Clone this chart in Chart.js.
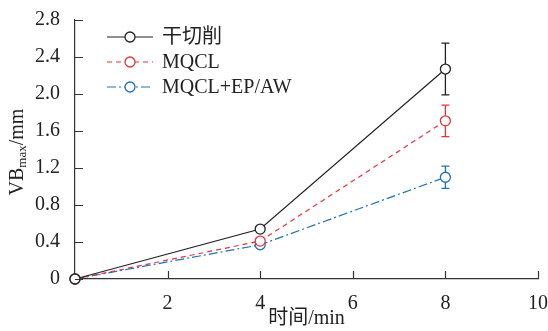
<!DOCTYPE html>
<html>
<head>
<meta charset="utf-8">
<script src="https://cdn.jsdelivr.net/npm/chart.js@4"></script>
<style>
  html, body { margin: 0; padding: 0; background: #fff; }
  #wrap { width: 548px; height: 331px; }
</style>
</head>
<body>
<div id="wrap"><canvas id="chartVB" width="548" height="331"></canvas></div>
<script>
// dados
const tempos = [0, 4, 8];
const seriesNomes = ['干切削', 'MQCL', 'MQCL+EP/AW'];
const vbSeco = [0, 0.54, 2.27];
const vbMqcl = [0, 0.41, 1.71];
const vbMqclEp = [0, 0.37, 1.10];
// barras de erro (só no último ponto)
const erroSeco = [0, 0, 0.28];
const erroMqcl = [0, 0, 0.17];
const erroMqclEp = [0, 0, 0.12];
const xTicks = [2, 4, 6, 8, 10];
const yTicks = [0, 0.4, 0.8, 1.2, 1.6, 2.0, 2.4, 2.8];

const FONTE = '"Liberation Serif", "Times New Roman", "Noto Sans CJK SC", serif';
const cores = ['#222222', '#e8323c', '#1f72ba'];
const tracos = [[], [5, 4], [9, 3, 2, 3]];
const erros = [erroSeco, erroMqcl, erroMqclEp];

function montarDataset(i, valores) {
    return {
        label: seriesNomes[i],
        data: tempos.map((t, k) => ({ x: t, y: valores[k] })),
        borderColor: cores[i],
        borderWidth: 1.2,
        borderDash: tracos[i],
        pointRadius: 5,
        pointHoverRadius: 5,
        pointBorderWidth: 1.3,
        pointBackgroundColor: '#ffffff',
        pointBorderColor: cores[i],
        tension: 0,
        clip: false
    };
}

// plugin: barras de erro, ticks internos, legenda e título do eixo y
const extras = {
    id: 'extras',
    beforeDatasetsDraw(chart) {
        const { ctx, scales } = chart;
        const sx = scales.x, sy = scales.y;
        ctx.save();
        erros.forEach((arr, i) => {
            ctx.strokeStyle = cores[i];
            ctx.lineWidth = 1.3;
            ctx.setLineDash([]);
            arr.forEach((e, k) => {
                if (!e) return;
                const px = sx.getPixelForValue(tempos[k]);
                const v = chart.data.datasets[i].data[k].y;
                const top = sy.getPixelForValue(v + e);
                const bot = sy.getPixelForValue(v - e);
                ctx.beginPath();
                ctx.moveTo(px, top); ctx.lineTo(px, bot);
                ctx.moveTo(px - 4, top); ctx.lineTo(px + 4, top);
                ctx.moveTo(px - 4, bot); ctx.lineTo(px + 4, bot);
                ctx.stroke();
            });
        });
        ctx.restore();
    },
    afterDraw(chart) {
        const { ctx, scales, chartArea } = chart;
        const sx = scales.x, sy = scales.y;
        ctx.save();
        // ticks para dentro
        ctx.strokeStyle = '#333';
        ctx.lineWidth = 1.2;
        ctx.beginPath();
        xTicks.forEach(t => {
            const px = Math.round(sx.getPixelForValue(t)) + 0.5;
            ctx.moveTo(px, chartArea.bottom);
            ctx.lineTo(px, chartArea.bottom - 8);
        });
        yTicks.forEach(t => {
            const py = Math.round(sy.getPixelForValue(t)) + 0.5;
            ctx.moveTo(chartArea.left, py);
            ctx.lineTo(chartArea.left + 8, py);
        });
        ctx.stroke();

        // legenda
        const lx = 107, ly = 37, passo = 25;
        seriesNomes.forEach((nome, i) => {
            const y = ly + i * passo;
            ctx.strokeStyle = cores[i];
            ctx.lineWidth = 1.2;
            ctx.setLineDash(tracos[i]);
            ctx.beginPath();
            ctx.moveTo(lx, y); ctx.lineTo(lx + 46, y);
            ctx.stroke();
            ctx.setLineDash([]);
            ctx.beginPath();
            ctx.arc(lx + 23, y, 5, 0, Math.PI * 2);
            ctx.fillStyle = '#fff';
            ctx.fill();
            ctx.lineWidth = 1.3;
            ctx.stroke();
            ctx.fillStyle = '#222';
            ctx.font = '20px ' + FONTE;
            ctx.textBaseline = 'middle';
            ctx.textAlign = 'left';
            ctx.fillText(nome, lx + 55, y + 1);
        });

        // título do eixo y com subscrito
        ctx.translate(18, 152);
        ctx.rotate(-Math.PI / 2);
        ctx.fillStyle = '#222';
        ctx.textBaseline = 'middle';
        ctx.textAlign = 'left';
        const fGrande = '20px ' + FONTE, fPeq = '13px ' + FONTE;
        ctx.font = fGrande;
        const w1 = ctx.measureText('VB').width;
        const w3 = ctx.measureText('/mm').width;
        ctx.font = fPeq;
        const w2 = ctx.measureText('max').width;
        let x0 = -(w1 + w2 + w3) / 2;
        ctx.font = fGrande;
        ctx.fillText('VB', x0, 0);
        ctx.font = fPeq;
        ctx.fillText('max', x0 + w1, 5);
        ctx.font = fGrande;
        ctx.fillText('/mm', x0 + w1 + w2, 0);
        ctx.restore();
    }
};

const ctx = document.getElementById('chartVB').getContext('2d');
new Chart(ctx, {
    type: 'line',
    data: {
        datasets: [
            montarDataset(0, vbSeco),
            montarDataset(1, vbMqcl),
            montarDataset(2, vbMqclEp)
        ]
    },
    options: {
        responsive: false,
        animation: false,
        layout: { padding: { top: 20, right: 0, left: 0, bottom: 0 } },
        plugins: {
            legend: { display: false },
            tooltip: { enabled: false }
        },
        scales: {
            x: {
                type: 'linear',
                min: 0, max: 10,
                afterFit: s => { s.height = 52; s.paddingRight = 10; s.paddingLeft = 0; },
                afterBuildTicks: s => { s.ticks = [0].concat(xTicks).map(v => ({ value: v })); },
                grid: { display: false },
                border: { display: true, color: '#333', width: 1.2 },
                ticks: {
                    color: '#222',
                    font: { family: FONTE, size: 20 },
                    padding: 5,
                    maxRotation: 0,
                    callback: v => v === 0 ? '' : String(v)
                },
                title: {
                    display: true,
                    text: '时间/min',
                    color: '#222',
                    font: { family: FONTE, size: 20 },
                    padding: { top: 0, bottom: 0 }
                }
            },
            y: {
                type: 'linear',
                min: 0, max: 2.8,
                afterFit: s => { s.width = 75; },
                afterBuildTicks: s => { s.ticks = yTicks.map(v => ({ value: v })); },
                grid: { display: false },
                border: { display: true, color: '#333', width: 1.2 },
                ticks: {
                    color: '#222',
                    font: { family: FONTE, size: 20 },
                    padding: 7,
                    callback: v => v === 0 ? '0' : Number(v).toFixed(1)
                }
            }
        }
    },
    plugins: [extras]
});
</script>
</body>
</html>
